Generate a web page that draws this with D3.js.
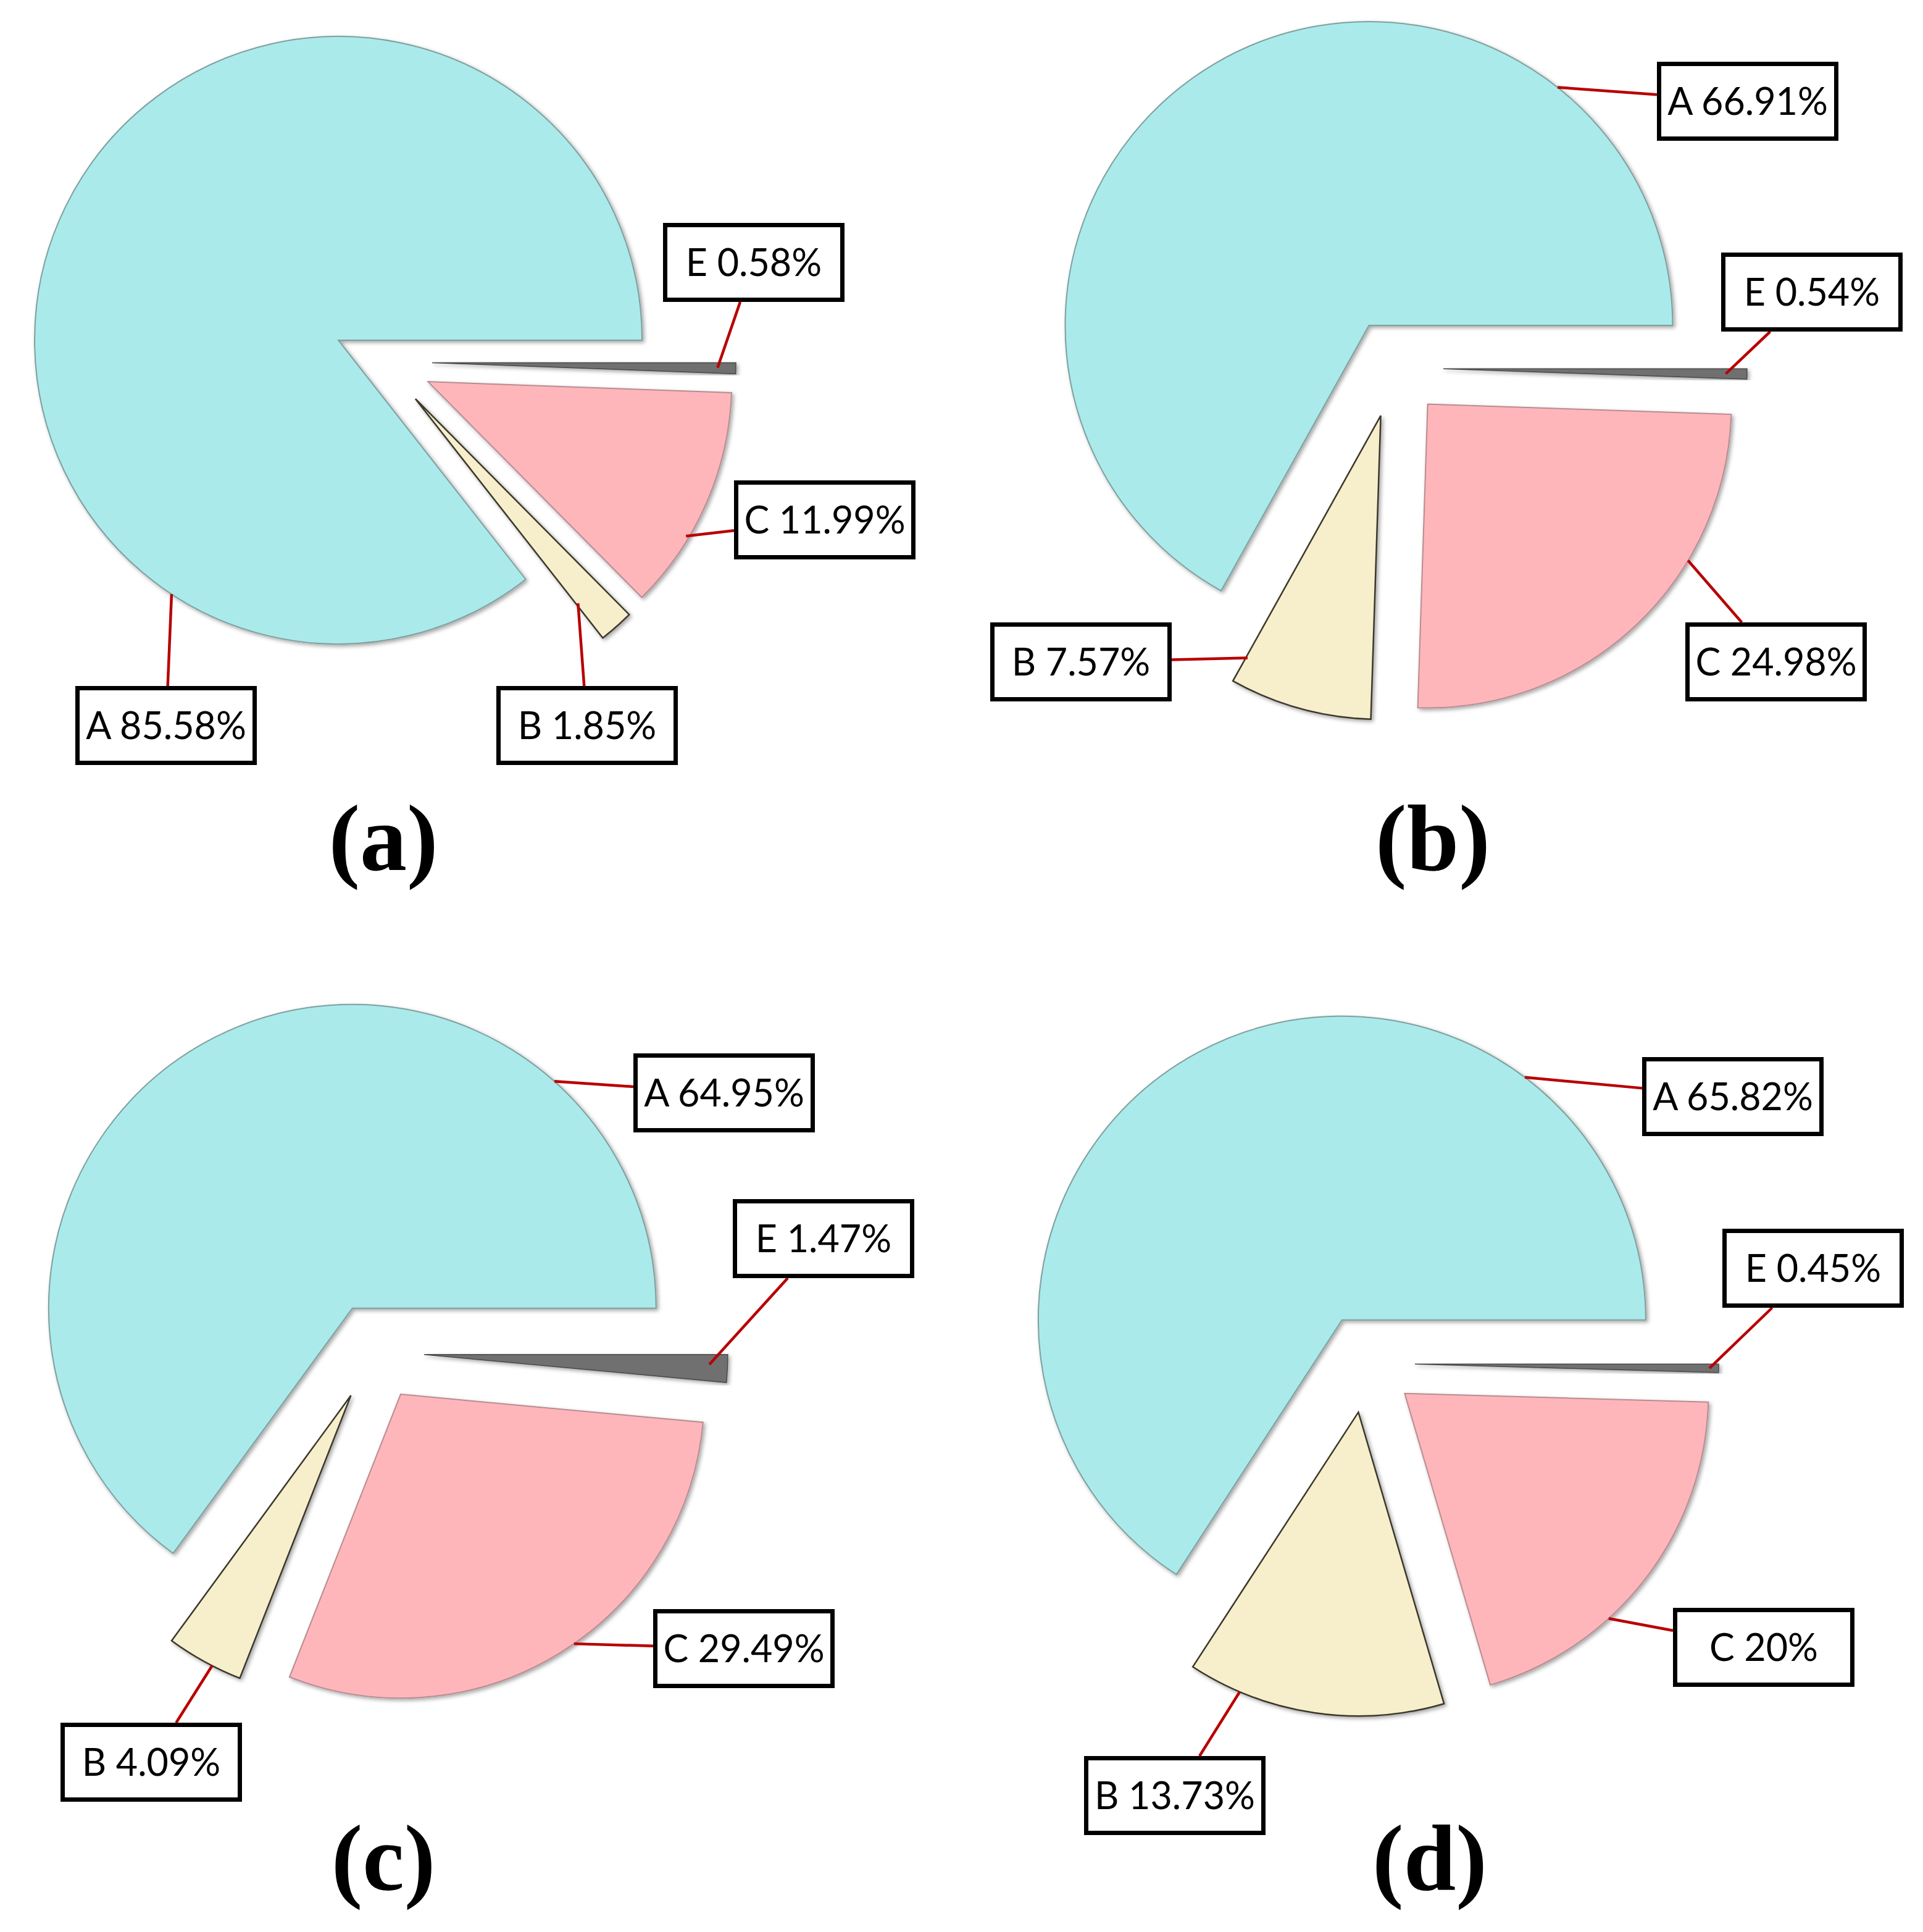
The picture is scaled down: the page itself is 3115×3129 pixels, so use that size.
<!DOCTYPE html>
<html>
<head>
<meta charset="utf-8">
<script src="https://cdn.jsdelivr.net/npm/d3@7"></script>
<style>
  html, body { margin: 0; padding: 0; background: #ffffff; }
  svg { display: block; }
</style>
</head>
<body>
<script>
// ---------- data ----------
const panelTitles = ["(a)", "(b)", "(c)", "(d)"];
const categories = ["A", "B", "C", "E"];
const valuesA = [85.58, 1.85, 11.99, 0.58];
const valuesB = [66.91, 7.57, 24.98, 0.54];
const valuesC = [64.95, 4.09, 29.49, 1.47];
const valuesD = [65.82, 13.73, 20, 0.45];
const panelValues = [valuesA, valuesB, valuesC, valuesD];

// ---------- layout / style ----------
const W = 3115, H = 3129;
const radius = 492, explode = 80;
const colors = { A: "#aaeaea", B: "#f7eecb", C: "#ffb6bb", E: "#6f6f6f" };
const strokes = { A: "#7f9f9f", B: "#3a382c", C: "#b88c90", E: "#4a4a4a" };
const strokeW = { A: 2, B: 2.5, C: 2, E: 1.5 };

const panelLayout = [
  { cx: 620,  cy: 586,  tx: 621,  ty: 1409 },
  { cx: 2258, cy: 596,  tx: 2321, ty: 1409 },
  { cx: 607,  cy: 2190, tx: 621,  ty: 3061 },
  { cx: 2212, cy: 2208, tx: 2316, ty: 3061 }
];
// label boxes (top-left, panel order A,B,C,E) and leader start (angle deg, radius fraction)
const boxW = 294, boxH = 128;
const labelLayout = [
  [ {x: 122, y: 1111, a: 213.3, r: 1},    {x: 804,  y: 1111, a: 141.5, r: 0.86},
    {x: 1189, y: 778, a: 120.9, r: 0.99}, {x: 1074, y: 361,  a: 91,    r: 0.94} ],
  [ {x: 2684, y: 100, a: 38.4, r: 1},     {x: 1604, y: 1008, a: 208.8, r: 0.91},
    {x: 2730, y: 1008, a: 121, r: 1},     {x: 2788, y: 409,  a: 91,    r: 0.93} ],
  [ {x: 1026, y: 1706, a: 41.7, r: 1},    {x: 98,   y: 2790, a: 207.2, r: 1},
    {x: 1058, y: 2606, a: 145.2, r: 1},   {x: 1187, y: 1942, a: 92,    r: 0.94} ],
  [ {x: 2660, y: 1712, a: 37, r: 1},      {x: 1756, y: 2844, a: 203,   r: 1},
    {x: 2710, y: 2604, a: 137.8, r: 1},   {x: 2790, y: 1990, a: 90.8,  r: 0.97} ]
];

const svg = d3.select("body").append("svg")
  .attr("width", W).attr("height", H)
  .attr("viewBox", `0 0 ${W} ${H}`);

const defs = svg.append("defs");
const f = defs.append("filter").attr("id", "shadow")
  .attr("x", "-10%").attr("y", "-10%").attr("width", "120%").attr("height", "120%");
f.append("feDropShadow").attr("dx", 3).attr("dy", 3)
  .attr("stdDeviation", 3).attr("flood-color", "#000").attr("flood-opacity", 0.35);

const pie = d3.pie().sort(null).value(d => d.v)
  .startAngle(2.5 * Math.PI).endAngle(0.5 * Math.PI);
const arc = d3.arc().innerRadius(0).outerRadius(radius);

function clipToBox(x0, y0, bx, by, bw, bh) {
  const cx = bx + bw / 2, cy = by + bh / 2;
  const dx = cx - x0, dy = cy - y0;
  let best = 1;
  const cands = [];
  if (dx !== 0) { cands.push((bx - x0) / dx, (bx + bw - x0) / dx); }
  if (dy !== 0) { cands.push((by - y0) / dy, (by + bh - y0) / dy); }
  for (const t of cands) {
    if (t > 0 && t < best) {
      const px = x0 + t * dx, py = y0 + t * dy;
      if (px >= bx - 0.5 && px <= bx + bw + 0.5 && py >= by - 0.5 && py <= by + bh + 0.5) best = t;
    }
  }
  return [x0 + best * dx, y0 + best * dy];
}

panelValues.forEach((vals, pi) => {
  const L = panelLayout[pi];
  const data = categories.map((c, i) => ({ cat: c, v: vals[i], idx: i }));
  const arcs = pie(data);
  const g = svg.append("g").attr("transform", `translate(${L.cx},${L.cy})`);

  arcs.forEach(a => {
    const m = (a.startAngle + a.endAngle) / 2;
    a.ox = explode * Math.sin(m);
    a.oy = -explode * Math.cos(m);
  });
  g.selectAll("path.slice").data(arcs).join("path")
    .attr("class", "slice")
    .attr("transform", d => `translate(${d.ox},${d.oy})`)
    .attr("d", arc)
    .attr("fill", d => colors[d.data.cat])
    .attr("stroke", d => strokes[d.data.cat])
    .attr("stroke-width", d => strokeW[d.data.cat])
    .attr("stroke-linejoin", "miter")
    .attr("filter", "url(#shadow)");

  arcs.forEach(a => {
    const lay = labelLayout[pi][a.data.idx];
    const ang = lay.a * Math.PI / 180;
    const sx = L.cx + a.ox + radius * lay.r * Math.sin(ang);
    const sy = L.cy + a.oy - radius * lay.r * Math.cos(ang);
    const [ex, ey] = clipToBox(sx, sy, lay.x, lay.y, boxW, boxH);
    svg.append("line")
      .attr("x1", sx).attr("y1", sy).attr("x2", ex).attr("y2", ey)
      .attr("stroke", "#b80000").attr("stroke-width", 4.5);
    svg.append("rect")
      .attr("x", lay.x + 3.5).attr("y", lay.y + 3.5)
      .attr("width", boxW - 7).attr("height", boxH - 7)
      .attr("fill", "#ffffff").attr("stroke", "#000000").attr("stroke-width", 7);
    svg.append("text")
      .attr("x", lay.x + boxW / 2).attr("y", lay.y + boxH / 2 + 22)
      .attr("text-anchor", "middle")
      .attr("font-family", "Lato, 'Open Sans', sans-serif")
      .attr("font-size", 61)
      .attr("fill", "#000")
      .text(`${a.data.cat} ${a.data.v}%`);
  });

  svg.append("text")
    .attr("x", L.tx).attr("y", L.ty)
    .attr("text-anchor", "middle")
    .attr("font-family", "'Liberation Serif', 'Times New Roman', serif")
    .attr("font-weight", "bold")
    .attr("font-size", 152)
    .attr("fill", "#000")
    .text(panelTitles[pi]);
});
</script>
</body>
</html>
